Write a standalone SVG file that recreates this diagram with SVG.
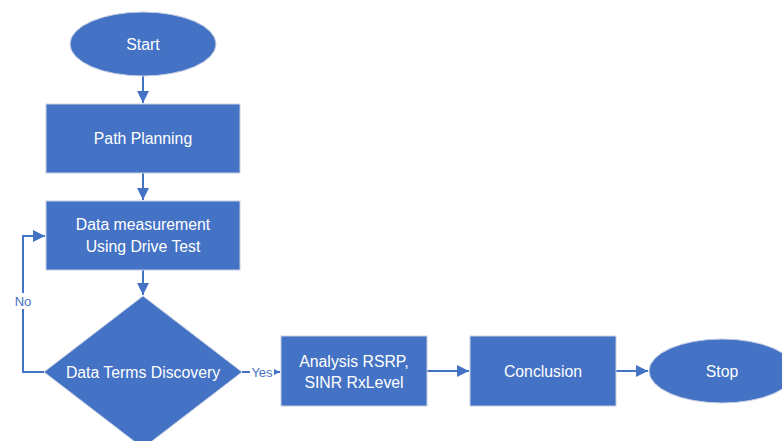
<svg xmlns="http://www.w3.org/2000/svg" width="782" height="441" viewBox="0 0 782 441">
<style>
.shape{fill:#4472C4;stroke:#c5cfe3;stroke-width:1}
.lbl{fill:#ffffff;font-family:"Liberation Sans",Arial,sans-serif;font-size:15.8px;text-anchor:middle;dominant-baseline:central}
.conn{fill:none;stroke:#4472C4;stroke-width:2}
.clbl{fill:#4472C4;font-family:"Liberation Sans",Arial,sans-serif;font-size:13px;text-anchor:middle;dominant-baseline:central}
</style>
<defs>
<marker id="arr" viewBox="0 0 10 10" refX="10" refY="5" markerWidth="6" markerHeight="6" orient="auto" markerUnits="strokeWidth">
<path d="M0,0 L10,5 L0,10 Z" fill="#4472C4"/>
</marker>
</defs>
<rect width="782" height="441" fill="#ffffff"/>
<g id="connectors">
<path class="conn" d="M143,76 V103" marker-end="url(#arr)"/>
<path class="conn" d="M143,173 V200" marker-end="url(#arr)"/>
<path class="conn" d="M143,270 V295" marker-end="url(#arr)"/>
<path class="conn" d="M44,372 H23 V236 H45" marker-end="url(#arr)"/>
<rect x="13" y="293" width="22" height="16" fill="#ffffff"/>
<text class="clbl" x="23" y="301">No</text>
<path class="conn" d="M242,372 H280" marker-end="url(#arr)"/>
<rect x="250" y="364" width="24" height="16" fill="#ffffff"/>
<text class="clbl" x="262" y="372">Yes</text>
<path class="conn" d="M427,371 H469" marker-end="url(#arr)"/>
<path class="conn" d="M616,371 H648" marker-end="url(#arr)"/>
</g>
<g id="start">
<ellipse class="shape" cx="143" cy="44" rx="73" ry="32"/>
<text class="lbl" x="143" y="44">Start</text>
</g>
<g id="path-planning">
<rect class="shape" x="46" y="104" width="194" height="69"/>
<text class="lbl" x="143" y="138.5">Path Planning</text>
</g>
<g id="data-measurement">
<rect class="shape" x="46" y="201" width="194" height="69"/>
<text class="lbl" x="143" y="224">Data measurement</text>
<text class="lbl" x="143" y="246">Using Drive Test</text>
</g>
<g id="data-terms-discovery">
<polygon class="shape" points="143,296 242,372 143,448 44,372"/>
<text class="lbl" x="143" y="372">Data Terms Discovery</text>
</g>
<g id="analysis">
<rect class="shape" x="281" y="336" width="146" height="70"/>
<text class="lbl" x="354" y="361">Analysis RSRP,</text>
<text class="lbl" x="354" y="382">SINR RxLevel</text>
</g>
<g id="conclusion">
<rect class="shape" x="470" y="336" width="146" height="70"/>
<text class="lbl" x="543" y="371">Conclusion</text>
</g>
<g id="stop">
<ellipse class="shape" cx="722" cy="371" rx="73" ry="32"/>
<text class="lbl" x="722" y="371">Stop</text>
</g>
</svg>
